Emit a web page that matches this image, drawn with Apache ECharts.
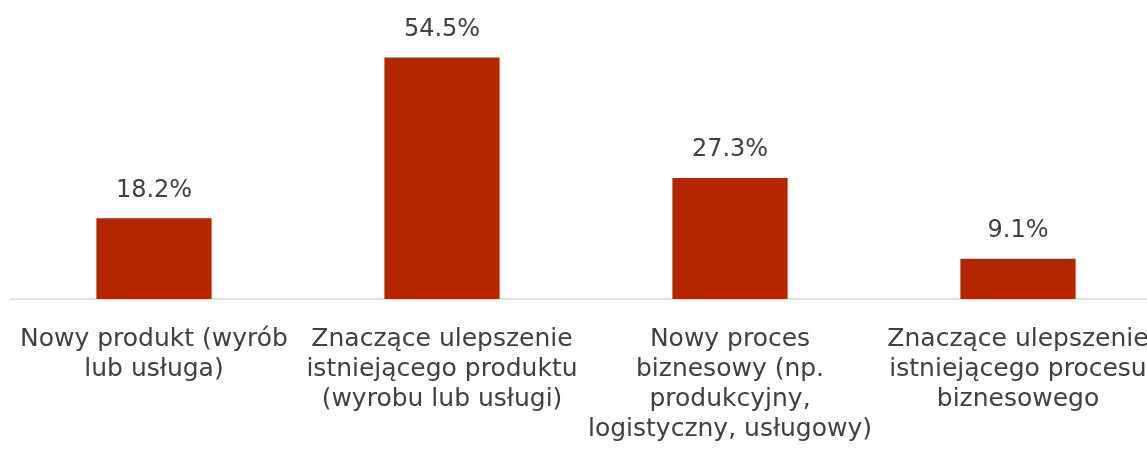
<!DOCTYPE html>
<html>
<head>
<meta charset="utf-8">
<script src="https://cdn.jsdelivr.net/npm/echarts@6/dist/echarts.min.js"></script>
<style>
    html, body { margin: 0; padding: 0; background: #fff; overflow: hidden; }
    #chart { width: 1162px; height: 459px; }
</style>
</head>
<body>
<div id="chart"></div>
<script>
const categories = [
    'Nowy produkt (wyrób\nlub usługa)',
    'Znaczące ulepszenie\nistniejącego produktu\n(wyrobu lub usługi)',
    'Nowy proces\nbiznesowy (np.\nprodukcyjny,\nlogistyczny, usługowy)',
    'Znaczące ulepszenie\nistniejącego procesu\nbiznesowego'
];
const shares = [18.2, 54.5, 27.3, 9.1];

(function () {
    // the plot runs past the right edge of the window, as in the original
    let myChart = echarts.init(document.getElementById('chart'));
    let font = '"DejaVu Sans", sans-serif';
    let option = {
        animation: false,
        grid: {
            left: 10,
            right: 0,
            top: 33,
            height: 266
        },
        xAxis: {
            type: 'category',
            data: categories,
            axisTick: { show: false },
            axisLine: {
                lineStyle: { color: '#d9d9d9', width: 1.5 }
            },
            axisLabel: {
                interval: 0,
                margin: 25,
                color: '#404040',
                fontSize: 25,
                lineHeight: 30,
                fontFamily: font
            }
        },
        yAxis: {
            type: 'value',
            min: 0,
            max: 60,
            show: false,
            splitLine: { show: false }
        },
        series: [
            {
                type: 'bar',
                data: shares,
                barWidth: '40%',
                itemStyle: { color: '#b32600' },
                label: {
                    show: true,
                    position: 'top',
                    distance: 16,
                    color: '#404040',
                    fontSize: 24,
                    fontFamily: font,
                    formatter: p => p.value.toFixed(1) + '%'
                }
            }
        ]
    };
    myChart.setOption(option);
})();
</script>
</body>
</html>
